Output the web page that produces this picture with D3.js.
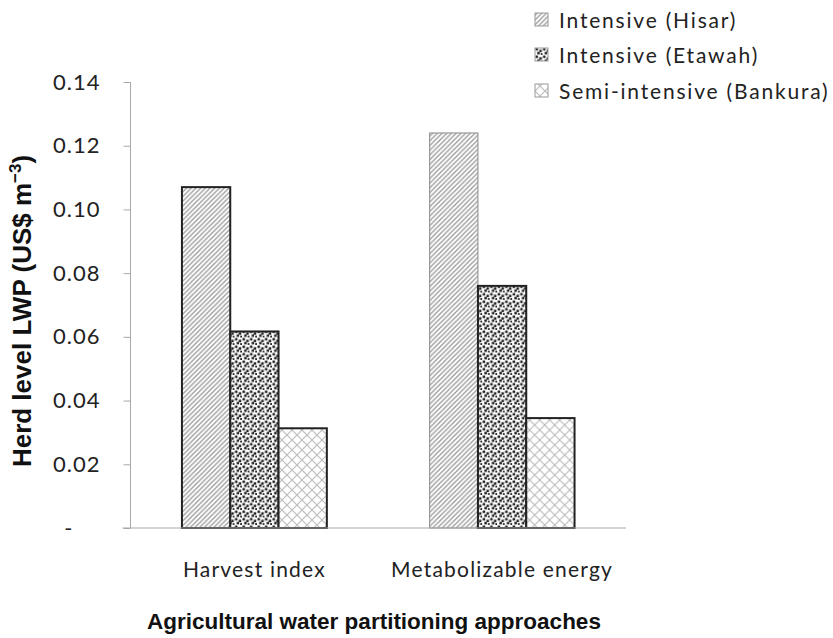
<!DOCTYPE html>
<html>
<head>
<meta charset="utf-8">
<script src="https://cdn.jsdelivr.net/npm/d3@7"></script>
<style>
  body { margin: 0; background: #fff; }
  svg { display: block; }
  .tick-label { font-family: Lato, "Open Sans", sans-serif; fill: #222; }
  .title { font-family: "Liberation Sans", Arial, sans-serif; font-weight: bold; fill: #111; }
</style>
</head>
<body>
<svg id="chart" width="833" height="638"></svg>
<script>
// chart values
const categories = ['Harvest index', 'Metabolizable energy']
const series = ['Intensive (Hisar)', 'Intensive (Etawah)', 'Semi-intensive (Bankura)']
const hisar = [0.107, 0.124]
const etawah = [0.0617, 0.076]
const bankura = [0.0313, 0.0345]
const yTicks = [0, 0.02, 0.04, 0.06, 0.08, 0.10, 0.12, 0.14]

const values = [hisar, etawah, bankura]

const svg = d3.select('#chart')
const margin = {left: 130.5, right: 207, top: 82, bottom: 110}
const W = 833, H = 638

// patterns
const defs = svg.append('defs')
let p = defs.append('pattern').attr('id', 'pat-hisar')
  .attr('patternUnits', 'userSpaceOnUse').attr('width', 4.7).attr('height', 4.7)
p.append('path')
  .attr('d', 'M-1,1 l2,-2 M0,4.7 l4.7,-4.7 M3.7,5.7 l2,-2')
  .attr('stroke', '#999').attr('stroke-width', 1.3)

p = defs.append('pattern').attr('id', 'pat-etawah')
  .attr('patternUnits', 'userSpaceOnUse').attr('width', 7.5).attr('height', 7.5)
p.append('rect').attr('width', 7.5).attr('height', 7.5).attr('fill', '#fff')
;[[0.5, 0.5], [4.3, 2.2], [2.2, 4.4], [5.8, 5.6]].forEach(d => {
  p.append('rect').attr('x', d[0]).attr('y', d[1]).attr('width', 2.5).attr('height', 2.5).attr('fill', '#222')
})

p = defs.append('pattern').attr('id', 'pat-bankura')
  .attr('patternUnits', 'userSpaceOnUse').attr('width', 10).attr('height', 10)
p.append('rect').attr('width', 10).attr('height', 10).attr('fill', '#fff')
p.append('path').attr('d', 'M0,0 L10,10 M10,0 L0,10')
  .attr('stroke', '#bbb').attr('stroke-width', 1.1)

const fills = ['url(#pat-hisar)', 'url(#pat-etawah)', 'url(#pat-bankura)']

// scales
const x0 = d3.scaleBand().domain(categories)
  .range([margin.left, W - margin.right])
  .paddingInner(0.415).paddingOuter(0.2077)
const x1 = d3.scaleBand().domain(series).range([0, x0.bandwidth()])
const y = d3.scaleLinear().domain([0, 0.14]).range([H - margin.bottom, margin.top])

// y axis
const yAxis = d3.axisLeft(y).tickValues(yTicks).tickSize(7).tickPadding(23)
  .tickFormat(d => d === 0 ? '-' : d3.format('.2f')(d))
const gy = svg.append('g').attr('transform', `translate(${margin.left},0)`).call(yAxis)
gy.select('.domain').attr('stroke', '#a8a8a8').attr('d', `M0,${y(0.14)}V${y(0)}`)
gy.selectAll('.tick line').attr('stroke', '#a8a8a8')
gy.selectAll('.tick text').attr('class', 'tick-label')
  .style('font-size', '22px').style('letter-spacing', '1px')
  .attr('fill', null)
gy.selectAll('.tick text').filter(d => d === 0).attr('x', -57)

// bars
categories.forEach((c, i) => {
  const g = svg.append('g').attr('transform', `translate(${x0(c)},0)`)
  series.forEach((s, j) => {
    const v = values[j][i]
    const thin = j === 0 && i === 1
    g.append('rect')
      .attr('x', x1(s))
      .attr('y', y(v))
      .attr('width', x1.bandwidth())
      .attr('height', y(0) - y(v))
      .attr('fill', fills[j])
      .attr('stroke', thin ? '#8a8a8a' : '#222')
      .attr('stroke-width', thin ? 1 : 2)
  })
})

// x axis line
svg.append('line')
  .attr('x1', margin.left - 8).attr('x2', W - margin.right)
  .attr('y1', y(0)).attr('y2', y(0))
  .attr('stroke', '#a8a8a8')

// category labels
svg.selectAll('.cat-label').data(categories).enter().append('text')
  .attr('class', 'tick-label')
  .attr('x', d => x0(d) + x0.bandwidth() / 2)
  .attr('y', 577)
  .attr('text-anchor', 'middle')
  .style('font-size', '21px').style('letter-spacing', '1.2px')
  .text(d => d)

// axis titles
svg.append('text').attr('class', 'title')
  .attr('x', 374).attr('y', 629).attr('text-anchor', 'middle')
  .style('font-size', '22.5px')
  .text('Agricultural water partitioning approaches')

const yt = svg.append('text').attr('class', 'title')
  .attr('transform', 'translate(31,311) rotate(-90)')
  .attr('text-anchor', 'middle')
  .style('font-size', '26px')
yt.append('tspan').text('Herd level LWP (US$ m')
yt.append('tspan').attr('dy', -10).style('font-size', '17px').text('\u22123')
yt.append('tspan').attr('dy', 10).text(')')

// legend
const legend = svg.append('g').attr('transform', 'translate(535,0)')
const rowY = [20, 55, 91]
series.forEach((s, j) => {
  const r = legend.append('g').attr('transform', `translate(0,${rowY[j]})`)
  r.append('rect').attr('x', 0).attr('y', -7).attr('width', 13).attr('height', 13)
    .attr('fill', fills[j]).attr('stroke', '#999').attr('stroke-width', 1)
  r.append('text').attr('class', 'tick-label')
    .attr('x', 24).attr('y', 7.5)
    .style('font-size', '21px').style('letter-spacing', '1.8px')
    .text(s)
})
</script>
</body>
</html>
